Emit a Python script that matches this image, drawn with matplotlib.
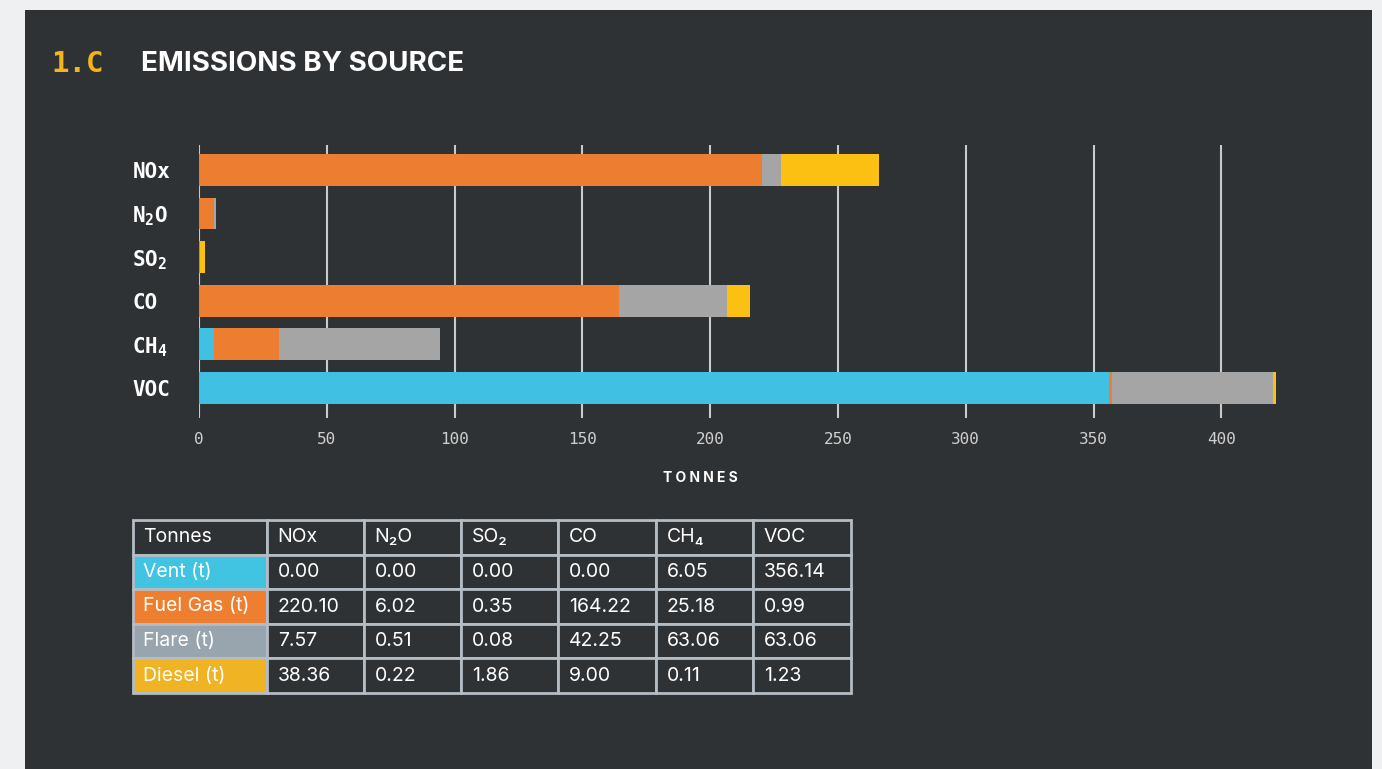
import matplotlib.pyplot as plt
from matplotlib.patches import Rectangle

plt.rcParams['mathtext.fontset'] = 'custom'
plt.rcParams['mathtext.rm'] = 'DejaVu Sans Mono:bold'
plt.rcParams['mathtext.bf'] = 'DejaVu Sans Mono:bold'

# data (tonnes)
gases = ['NOx', 'N₂O', 'SO₂', 'CO', 'CH₄', 'VOC']
gas_labels = ['NOx', r'N$_\mathrm{2}$O', r'SO$_\mathrm{2}$', 'CO', r'CH$_\mathrm{4}$', 'VOC']
sources = ['Vent (t)', 'Fuel Gas (t)', 'Flare (t)', 'Diesel (t)']
vent = [0.00, 0.00, 0.00, 0.00, 6.05, 356.14]
fuel_gas = [220.10, 6.02, 0.35, 164.22, 25.18, 0.99]
flare = [7.57, 0.51, 0.08, 42.25, 63.06, 63.06]
diesel = [38.36, 0.22, 1.86, 9.00, 0.11, 1.23]
xticks = [0, 50, 100, 150, 200, 250, 300, 350, 400]

bar_colors = ['#40c1e3', '#ec7d31', '#a5a5a5', '#fbc012']
cell_colors = ['#41c3e2', '#ee7f30', '#98a4ae', '#f0b323']
bg = '#2f3234'
W, H = 1382, 769

fig = plt.figure(figsize=(W / 100, H / 100), dpi=100, facecolor='#eff0f2')
fig.add_artist(Rectangle((25 / W, 0), 1347 / W, 759 / H, transform=fig.transFigure,
                         facecolor=bg, edgecolor='none', zorder=0))

# title
fig.text(51 / W, 1 - 64 / H, '1.C', color='#f2b51a', family='DejaVu Sans Mono',
         weight='bold', fontsize=21, va='center')
fig.text(141 / W, 1 - 64 / H, 'EMISSIONS BY SOURCE', color='white', family='Inter',
         weight='bold', fontsize=20, va='center')

# bars
ax = fig.add_axes([199 / W, 1 - 418 / H, (1298 - 199) / W, (418 - 145) / H])
ax.set_facecolor('none')
left = [0.0] * len(gases)
for vals, col in zip([vent, fuel_gas, flare, diesel], bar_colors):
    ax.barh(range(len(gases)), vals, left=left, height=0.73, color=col, zorder=3)
    left = [a + b for a, b in zip(left, vals)]

ax.set_xlim(0, 430)
ax.set_ylim(5.69, -0.57)
ax.set_xticks(xticks)
ax.set_xticklabels([str(t) for t in xticks], family='DejaVu Sans Mono',
                   fontsize=11.5, color='#cfcfcf')
ax.set_yticks(range(len(gases)))
ax.set_yticklabels(gas_labels, family='DejaVu Sans Mono', weight='bold', fontsize=15,
                   color='white', ha='left')
ax.tick_params(axis='y', length=0, pad=48)
ax.tick_params(axis='x', length=0, pad=10)
ax.xaxis.grid(True, color='#c9c9c9', linewidth=1.5)
ax.set_axisbelow(True)
for s in ax.spines.values():
    s.set_visible(False)

fig.text(700 / W, 1 - 478 / H, 'T O N N E S', color='white', family='Inter', weight='bold',
         fontsize=10, ha='center', va='center')

# table
tax = fig.add_axes([133 / W, 1 - 693 / H, (851 - 133) / W, (693 - 520) / H])
tax.axis('off')
rows = [['Tonnes'] + gases]
for name, vals in zip(sources, [vent, fuel_gas, flare, diesel]):
    rows.append([name] + [f'{v:.2f}' for v in vals])
widths = [134, 97, 97, 97, 98, 97, 98]
widths = [w / sum(widths) for w in widths]
tbl = tax.table(cellText=rows, colWidths=widths, bbox=[0, 0, 1, 1], cellLoc='left')
tbl.auto_set_font_size(False)
tbl.set_fontsize(14)
for (r, c), cell in tbl.get_celld().items():
    cell.set_edgecolor('#b4bcc4')
    cell.set_linewidth(2)
    cell.set_facecolor(cell_colors[r - 1] if (c == 0 and r > 0) else bg)
    cell.PAD = 0.075 if c == 0 else 0.11
    cell.get_text().set_color('white')
    cell.get_text().set_family(['Inter', 'DejaVu Sans'])

fig.savefig('out.png', dpi=100, facecolor=fig.get_facecolor())
